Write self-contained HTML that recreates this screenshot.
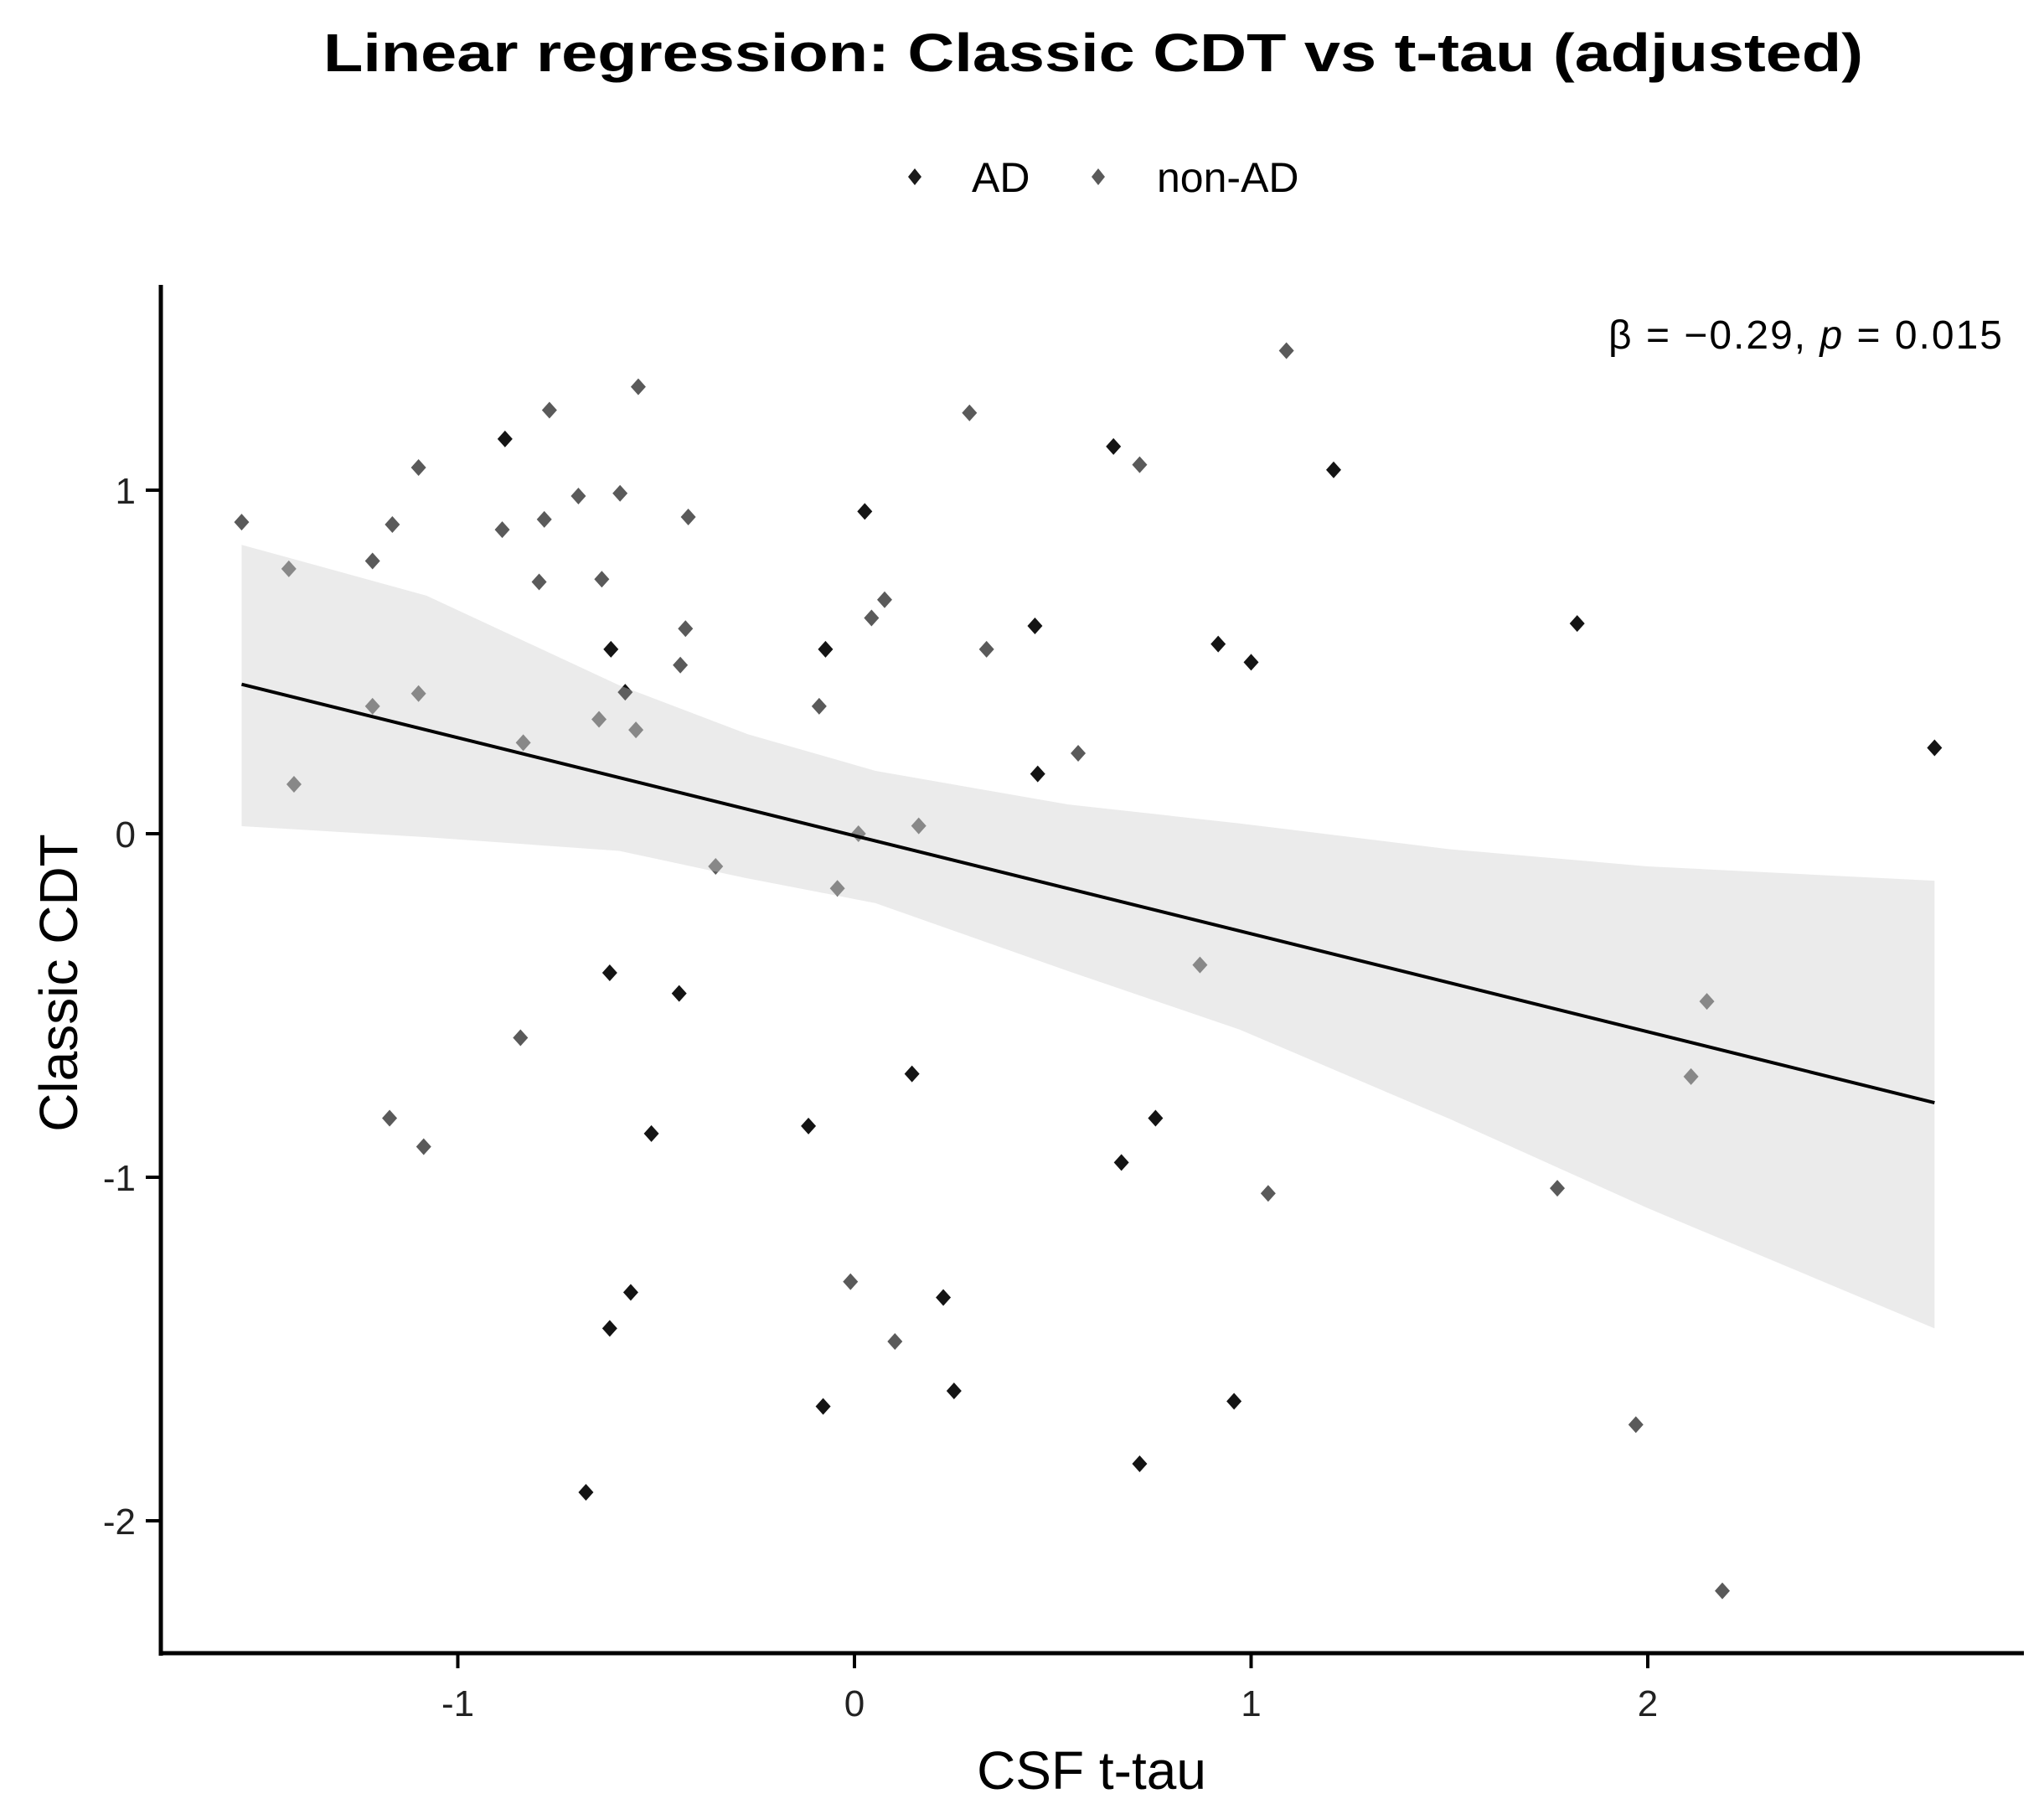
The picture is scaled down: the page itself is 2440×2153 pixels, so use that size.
<!DOCTYPE html>
<html><head><meta charset="utf-8"><style>
html,body{margin:0;padding:0;background:#fff;}
svg{display:block;font-family:"Liberation Sans",Arial,sans-serif;}
</style></head><body>
<svg id="chart" width="2440" height="2153" viewBox="0 0 2440 2153" xmlns="http://www.w3.org/2000/svg">
<text x="1305" y="85" text-anchor="middle" font-size="64" font-weight="bold" textLength="1838" lengthAdjust="spacingAndGlyphs">Linear regression: Classic CDT vs t-tau (adjusted)</text>
<g>
<path d="M1092,201 L1100,211 L1092,221 L1084,211Z" fill="#1a1a1a"/>
<text x="1160" y="229" font-size="50">AD</text>
<path d="M1311,201 L1319,211 L1311,221 L1303,211Z" fill="#5a5a5a"/>
<text x="1381" y="229" font-size="50">non-AD</text>
</g>
<g id="plot"></g>
<text x="2390" y="416" text-anchor="end" font-size="48" textLength="470" lengthAdjust="spacing">β = −0.29,  <tspan font-style="italic">p</tspan> = 0.015</text>
<text x="1303" y="2135" text-anchor="middle" font-size="64">CSF t-tau</text>
<text x="0" y="0" transform="translate(92,1173) rotate(-90)" text-anchor="middle" font-size="64">Classic CDT</text>
</svg>
<script>
const adX=[-0.881,-0.614,-0.578,-0.073,0.026,0.455,0.462,0.653,0.917,1.0,1.208,1.822,2.723,-0.617,-0.442,-0.512,-0.116,0.145,0.759,0.673,-0.564,-0.617,0.224,0.251,-0.079,0.957,0.719,-0.677];
const adY=[1.149,0.537,0.412,0.537,0.938,0.605,0.174,1.127,0.552,0.499,1.059,0.612,0.250,-0.405,-0.465,-0.873,-0.851,-0.699,-0.828,-0.957,-1.335,-1.440,-1.350,-1.622,-1.667,-1.652,-1.834,-1.917];
const nonX=[-1.545,-1.426,-1.413,-1.215,-1.215,-1.165,-1.099,-1.099,-0.888,-0.835,-0.795,-0.782,-0.769,-0.696,-0.644,-0.637,-0.591,-0.551,-0.545,-0.439,-0.426,-0.419,-0.350,-0.089,-0.043,0.010,0.043,0.076,0.162,0.290,0.333,0.564,0.719,0.871,1.089,1.043,1.772,1.970,2.109,2.149,2.188,-1.172,-1.086,-0.842,-0.010,0.102];
const nonY=[0.907,0.771,0.144,0.794,0.371,0.900,1.066,0.408,0.885,0.265,0.733,0.915,1.233,0.983,0.333,0.741,0.991,0.302,1.301,0.491,0.597,0.922,-0.095,0.371,-0.159,0.0,0.628,0.681,0.023,1.225,0.537,0.234,1.074,-0.382,1.406,-1.047,-1.032,-1.720,-0.707,-0.488,-2.204,-0.828,-0.911,-0.594,-1.304,-1.478];
const bandX=[-1.545,-1.079,-0.593,-0.27,0.053,0.539,0.971,1.5,2.0,2.723];
const bandUpper=[0.841,0.693,0.432,0.290,0.183,0.085,0.030,-0.045,-0.095,-0.137];
const bandLower=[0.022,-0.01,-0.05,-0.13,-0.202,-0.40,-0.57,-0.83,-1.09,-1.44];
const fitX=[-1.545,2.723];
const fitY=[0.435,-0.783];
const xTicks=[-1,0,1,2];
const yTicks=[-2,-1,0,1];

const NS='http://www.w3.org/2000/svg';
const g=document.getElementById('plot');
const sx=v=>1020+v*473.5;
const sy=v=>995-v*410;
function mk(t,a){const e=document.createElementNS(NS,t);for(const k in a)e.setAttribute(k,a[k]);g.appendChild(e);return e;}

function pt(x,y,c,name){
  const cx=sx(x),cy=sy(y);
  const p=mk('path',{d:`M${cx},${cy-10}L${cx+9},${cy}L${cx},${cy+10}L${cx-9},${cy}Z`,fill:c});
  
  
}
nonX.forEach((x,i)=>pt(x,nonY[i],'#5a5a5a','point-non-ad'));
adX.forEach((x,i)=>pt(x,adY[i],'#141414','point-ad'));

let d='';
bandX.forEach((x,i)=>{d+=(i?'L':'M')+sx(x)+','+sy(bandUpper[i]);});
for(let i=bandX.length-1;i>=0;i--)d+='L'+sx(bandX[i])+','+sy(bandLower[i]);
const band=mk('path',{d:d+'Z',fill:'rgb(205,205,205)','fill-opacity':0.4});



const fit=mk('line',{x1:sx(fitX[0]),y1:sy(fitY[0]),x2:sx(fitX[1]),y2:sy(fitY[1]),stroke:'#000','stroke-width':4});



const ya=mk('line',{x1:192,y1:340,x2:192,y2:1976,stroke:'#000','stroke-width':5});


const xa=mk('line',{x1:190,y1:1973,x2:2416,y2:1973,stroke:'#000','stroke-width':5});



xTicks.forEach(v=>{
  const t=mk('line',{x1:sx(v),y1:1975,x2:sx(v),y2:1991,stroke:'#000','stroke-width':4});
  
  
  const l=mk('text',{x:sx(v),y:2048,'text-anchor':'middle','font-size':44,fill:'#222'});
  l.textContent=v<0?'-'+Math.abs(v):String(v);
  
  
});
yTicks.forEach(v=>{
  const t=mk('line',{x1:174,y1:sy(v),x2:190,y2:sy(v),stroke:'#000','stroke-width':4});
  
  
  const l=mk('text',{x:162,y:sy(v)+16,'text-anchor':'end','font-size':44,fill:'#222'});
  l.textContent=v<0?'-'+Math.abs(v):String(v);
  
  
});
</script>
</body></html>
